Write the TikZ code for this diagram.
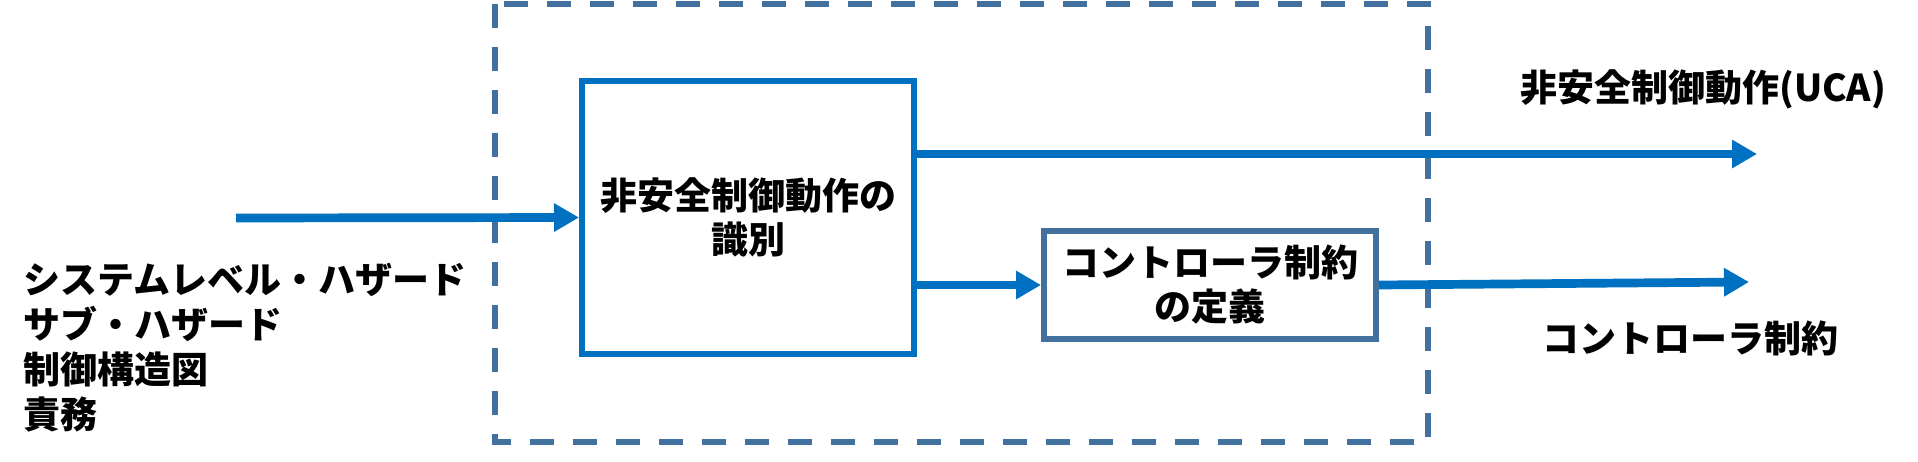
\documentclass[tikz,border=0pt]{standalone}
\usepackage{fontspec}
\setmainfont{Noto Sans CJK JP}
\usetikzlibrary{arrows.meta}
\definecolor{mainblue}{HTML}{0070C0}
\definecolor{steel}{HTML}{41719C}
\begin{document}
\begin{tikzpicture}[x=1pt,y=-1pt,
  txt/.style={font=\fontsize{37}{45}\selectfont\bfseries, inner sep=0pt},
  procbox/.style={draw=mainblue, line width=6pt, inner sep=0pt, align=center, font=\fontsize{37}{44}\selectfont\bfseries},
  subbox/.style={draw=steel, line width=6pt, inner sep=0pt, align=center, font=\fontsize{37}{44}\selectfont\bfseries},
  flow/.style={draw=mainblue, line width=8.7pt, -{Triangle[length=25pt,width=27pt]}},
  frame/.style={draw=steel, line width=6pt, dash pattern=on 24pt off 19pt},
]
\useasboundingbox (0,0) rectangle (1918,462);
\draw[frame] (495,4) rectangle (1428,442);
\node[procbox, minimum width=332pt, minimum height=273pt] (uca) at (748,217.5) {非安全制御動作の\\識別};
\node[subbox, minimum width=332pt, minimum height=108pt] (sub) at (1210,285) {コントローラ制約\\の定義};
\node[txt, anchor=west, align=left] (inputs) at (23,348) {システムレベル・ハザード\\サブ・ハザード\\制御構造図\\責務};
\node[txt, anchor=west] (lab1) at (1520,89) {非安全制御動作(UCA)};
\node[txt, anchor=west] (lab2) at (1542,338) {コントローラ制約};
\coordinate (in) at (236,218);
\coordinate (ucaout) at (1757,154);
\coordinate (conout) at (1749,282);
\draw[flow] (in) -- (uca.west);
\draw[flow] (uca.east |- ucaout) -- (ucaout);
\draw[flow] (uca.east |- sub.west) -- (sub.west);
\draw[flow] (sub.east) -- (conout);
\end{tikzpicture}
\end{document}
